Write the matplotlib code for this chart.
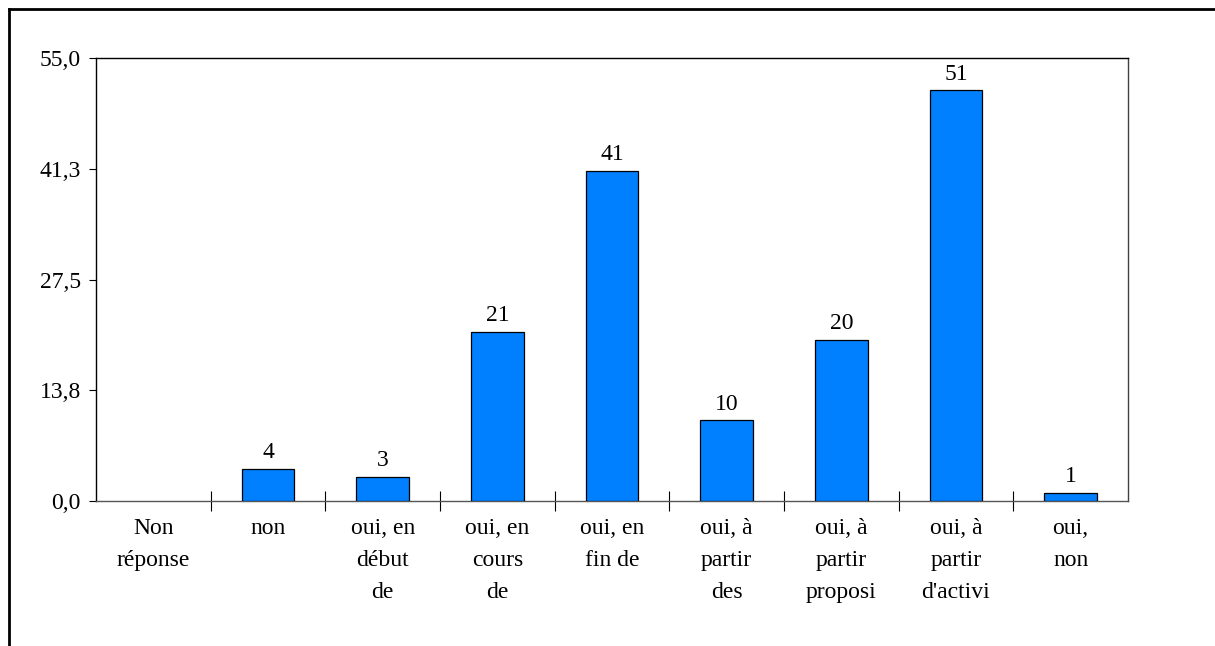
import matplotlib.pyplot as plt
from matplotlib.lines import Line2D
import numpy as np

# donnees
categories = ['Non\nréponse', 'non', 'oui, en\ndébut\nde', 'oui, en\ncours\nde',
              'oui, en\nfin de', 'oui, à\npartir\ndes', 'oui, à\npartir\nproposi',
              'oui, à\npartir\nd\'activi', 'oui,\nnon']
values = [0, 4, 3, 21, 41, 10, 20, 51, 1]
ytick_vals = [0, 13.75, 27.5, 41.25, 55]
ytick_labels = ['0,0', '13,8', '27,5', '41,3', '55,0']

plt.rcParams['font.family'] = ['Liberation Serif', 'DejaVu Serif']
fs = 17

fig = plt.figure(figsize=(12.15, 6.46), dpi=100)
ax = fig.add_axes([96 / 1215, 145 / 646, 1032 / 1215, 443 / 646])

x = np.arange(len(categories))
ax.bar(x, values, width=0.46, color='#0080FF', edgecolor='black',
       linewidth=[0.9 if v > 0 else 0 for v in values], zorder=3)

for xi, v in zip(x, values):
    if v > 0:
        ax.text(xi, v + 0.7, str(v), ha='center', va='bottom', fontsize=fs)

ax.set_xlim(-0.5, len(categories) - 0.5)
ax.set_ylim(0, 55)
ax.set_yticks(ytick_vals)
ax.set_yticklabels(ytick_labels, fontsize=fs)
ax.tick_params(axis='y', direction='out', length=5, pad=6, width=0.8)

ax.set_xticks(x)
ax.set_xticklabels(categories, fontsize=fs, linespacing=1.70)
ax.tick_params(axis='x', which='major', length=0, pad=12)
ax.set_xticks(np.arange(0.5, len(categories) - 1), minor=True)
ax.tick_params(axis='x', which='minor', direction='inout', length=14, width=0.8)

ax.spines['left'].set_color('black')
ax.spines['top'].set_color('black')
ax.spines['right'].set_color('#404040')
ax.spines['bottom'].set_color('#555555')
for s in ax.spines.values():
    s.set_linewidth(1.0)

# cadre exterieur (gauche et haut)
fig.add_artist(Line2D([9 / 1215, 9 / 1215], [0, 1 - 9 / 646], color='black', linewidth=2.0,
                      transform=fig.transFigure))
fig.add_artist(Line2D([9 / 1215, 1], [1 - 9 / 646, 1 - 9 / 646], color='black', linewidth=2.0,
                      transform=fig.transFigure))

fig.savefig('out.png', dpi=100)
